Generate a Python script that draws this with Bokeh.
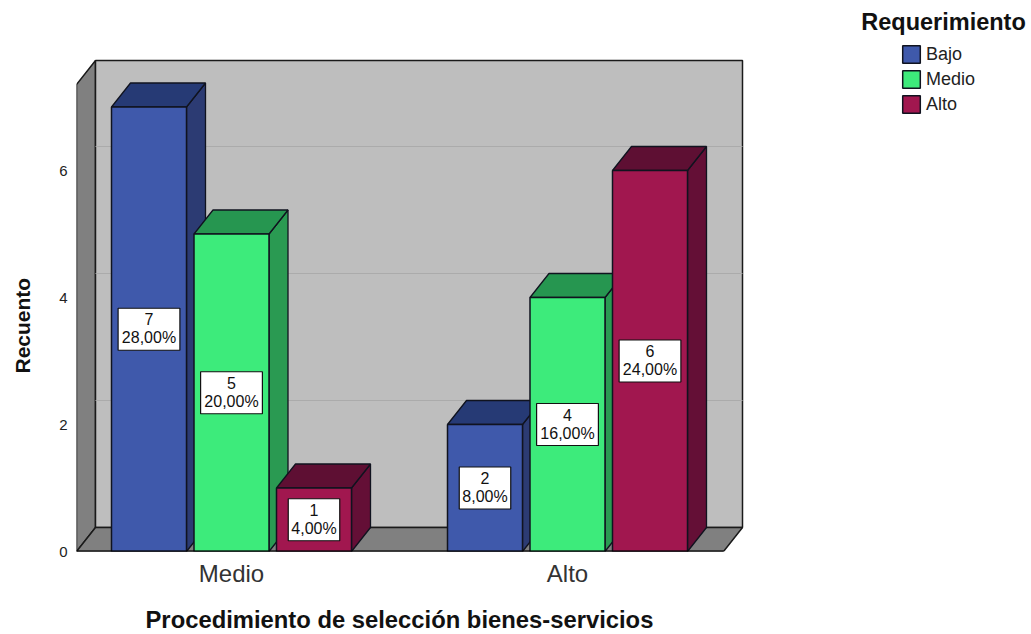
from bokeh.plotting import figure
from bokeh.models import FixedTicker, Label, Legend, LegendItem, Title
from bokeh.core.properties import value
from bokeh.embed import file_html
from bokeh.resources import INLINE

categories = ["Medio", "Alto"]
series_names = ["Bajo", "Medio", "Alto"]
bajo = [7, 2]
medio = [5, 4]
alto = [1, 6]
bajo_pct = ["28,00%", "8,00%"]
medio_pct = ["20,00%", "16,00%"]
alto_pct = ["4,00%", "24,00%"]
y_ticks = [0, 2, 4, 6]
grid_vals = [2, 4, 6]
front_colors = ["#3F59AB", "#3DEB7B", "#A1174F"]
top_colors = ["#263A75", "#269650", "#5E0F33"]
side_colors = ["#2C3B73", "#2A9A52", "#640F36"]

FONT = "Liberation Sans"
PX_X = 336.0   # pixels per category
PX_Y = 63.5    # pixels per count
X0, Y0 = 231.0, 551.0  # picture position of category 0 / count 0
LEFT, TOP = 76, 0
W, H = 1030, 633


def X(px):
    return (px - X0) / PX_X


def Y(py):
    return (Y0 - py) / PX_Y


DX, DY = 19 / PX_X, 24 / PX_Y
BAR_W, STEP = 75 / PX_X, 82.5 / PX_X
XL, XR = X(76), X(723)
WALL_TOP = Y(84)

p = figure(width=W, height=H, output_backend="svg", toolbar_location=None,
           x_range=(X(LEFT), X(W)), y_range=(0, Y(TOP)),
           min_border_left=LEFT, min_border_right=0, min_border_top=0,
           min_border_bottom=H - 551)
p.outline_line_color = None
p.background_fill_color = "white"
p.grid.visible = False

ax = p.xaxis[0]
ax.ticker = FixedTicker(ticks=list(range(len(categories))))
ax.major_label_overrides = {i: c for i, c in enumerate(categories)}
ax.axis_line_color = None
ax.major_tick_line_color = None
ax.minor_tick_line_color = None
ax.major_tick_out = 0
ax.major_tick_in = 0
ax.major_label_text_font = FONT
ax.major_label_text_font_size = "24px"
ax.major_label_text_color = "#333333"
ax.major_label_standoff = 8

ay = p.yaxis[0]
ay.ticker = FixedTicker(ticks=y_ticks)
ay.axis_line_color = None
ay.major_tick_line_color = None
ay.minor_tick_line_color = None
ay.major_tick_out = 0
ay.major_tick_in = 0
ay.major_label_text_font = FONT
ay.major_label_text_font_size = "15px"
ay.major_label_text_color = "#222222"
ay.major_label_standoff = 9

WALL_LINE = "#1a1a1a"
# side wall
p.patch([XL, XL + DX, XL + DX, XL], [0, DY, WALL_TOP + DY, WALL_TOP],
        fill_color="#808080", line_color=WALL_LINE, line_width=1.5)
# back wall
p.patch([XL + DX, XR + DX, XR + DX, XL + DX],
        [DY, DY, WALL_TOP + DY, WALL_TOP + DY],
        fill_color="#BEBEBE", line_color=WALL_LINE, line_width=1.5)
# grid lines on the back wall
p.segment([XL + DX] * 3, [v + DY for v in grid_vals],
          [XR + DX] * 3, [v + DY for v in grid_vals],
          line_color="#ABABAB", line_width=1)
# floor
p.patch([XL, XR, XR + DX, XL + DX], [0, 0, DY, DY],
        fill_color="#808080", line_color=WALL_LINE, line_width=1.5)

series = [bajo, medio, alto]
fronts = {}
LINE = "#10131f"
for ci in range(len(categories)):
    for si, vals in enumerate(series):
        v = vals[ci]
        l = ci + (si - 1) * STEP - BAR_W / 2
        r = l + BAR_W
        p.patch([r, r + DX, r + DX, r], [0, DY, v + DY, v],
                fill_color=side_colors[si], line_color=LINE, line_width=1.3)
        p.patch([l, r, r + DX, l + DX], [v, v, v + DY, v + DY],
                fill_color=top_colors[si], line_color=LINE, line_width=1.3)
        g = p.quad(left=[l], right=[r], bottom=[0], top=[v],
                   fill_color=front_colors[si], line_color=LINE, line_width=1.5)
        fronts.setdefault(si, g)

# baseline
p.line([XL, XR], [0, 0], line_color="#000000", line_width=2)

# value labels
for si, (vals, pcts) in enumerate(zip(series, [bajo_pct, medio_pct, alto_pct])):
    for ci, (v, pct) in enumerate(zip(vals, pcts)):
        cx = ci + (si - 1) * STEP
        cy = v / 2
        p.rect([cx], [cy], width=10.3 * len(pct), height=42, width_units="screen",
               height_units="screen", fill_color="white",
               line_color="#111111", line_width=1.2)
        p.text([cx], [cy], text=[str(v)], y_offset=-4, text_align="center",
               text_baseline="bottom", text_font=value(FONT),
               text_font_size="16px", text_color="#111111", text_line_height=1)
        p.text([cx], [cy], text=[pct], y_offset=0, text_align="center",
               text_baseline="top", text_font=value(FONT),
               text_font_size="16px", text_color="#111111")

legend = Legend(items=[LegendItem(label=n, renderers=[fronts[i]])
                       for i, n in enumerate(series_names)],
                location=(824, 436), orientation="vertical",
                background_fill_alpha=0, border_line_color=None,
                padding=0, margin=0, spacing=3, label_standoff=4,
                glyph_width=22, glyph_height=22, label_height=20,
                label_text_font=FONT, label_text_font_size="18px",
                label_text_color="#222222")
p.add_layout(legend, "center")

p.add_layout(Label(x=X(943), y=Y(21), text="Requerimiento", text_align="center",
                   text_baseline="middle", text_font=FONT, text_font_style="bold",
                   text_font_size="23.5px", text_color="#111111"))
# blank spacers push the axis titles away from the tick labels
p.add_layout(Title(text=" ", standoff=11, text_font_size="1px"), "below")
p.add_layout(Title(text=" ", standoff=20, text_font_size="1px"), "left")
p.add_layout(Title(text="Procedimiento de selección bienes-servicios", align="left",
                   offset=145 - LEFT, standoff=0,
                   text_font=FONT, text_font_style="bold",
                   text_font_size="23.8px", text_color="#111111"), "below")
p.add_layout(Title(text="Recuento", align="left", offset=551 - 373, standoff=0,
                   text_font=FONT, text_font_style="bold",
                   text_font_size="21px", text_color="#111111"), "left")

open("out.html", "w").write(file_html(p, INLINE))
